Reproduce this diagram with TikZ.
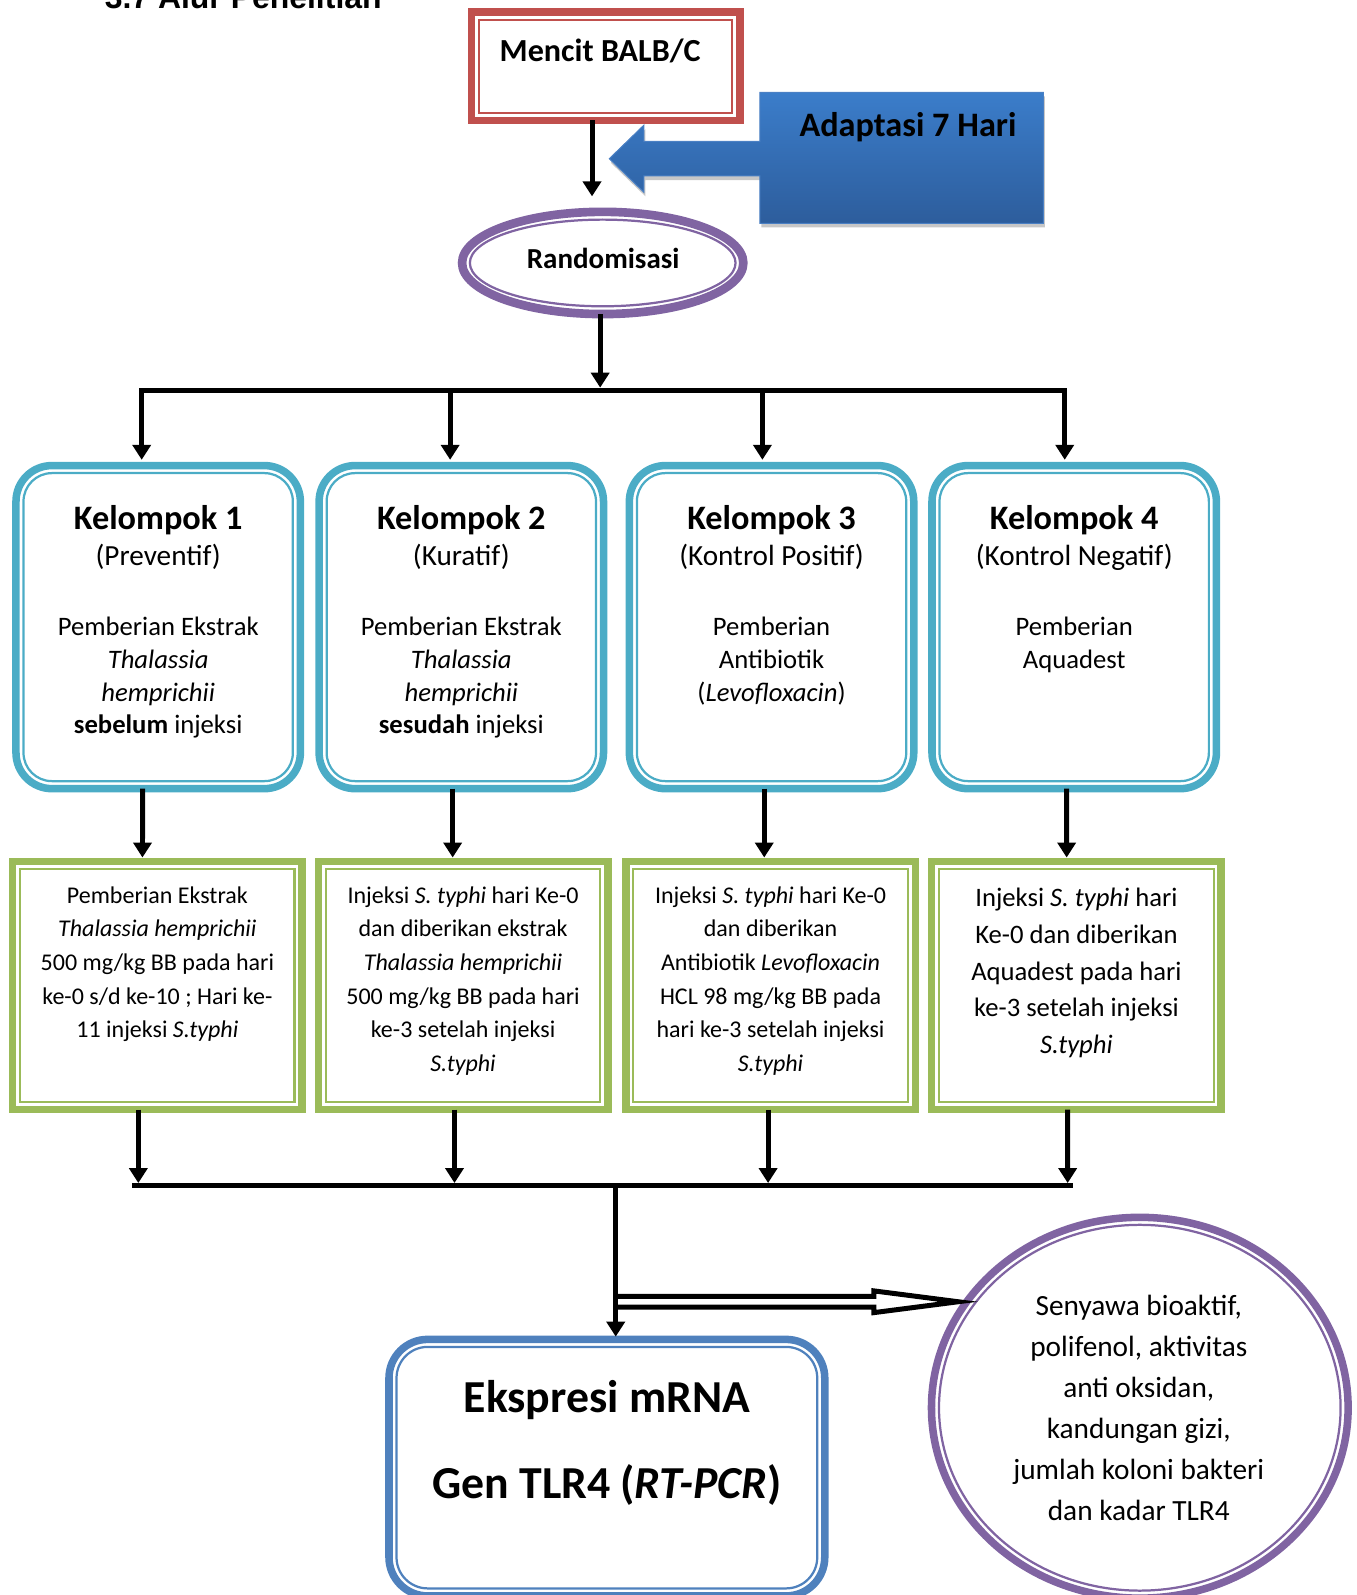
\documentclass[tikz,border=0pt]{standalone}
\usepackage{fontspec}
\setmainfont{Carlito}
\newfontfamily\titlefont{Liberation Sans}
\usetikzlibrary{arrows.meta,shapes.geometric,calc}
\definecolor{cred}{HTML}{C0504D}
\definecolor{ckel}{HTML}{4BACC6}
\definecolor{cgrn}{HTML}{9BBB59}
\definecolor{cpur}{HTML}{8064A2}
\definecolor{ceks}{HTML}{4F81BD}
\definecolor{cadtop}{HTML}{3B7DCA}
\definecolor{cadbot}{HTML}{2D5D9C}
\definecolor{cadline}{HTML}{4A80C4}
\newcommand\zzs{\rule{0pt}{40pt}}
\newcommand\fsz[2]{\fontsize{#1}{#2}\selectfont}
\begin{document}
\begin{tikzpicture}[x=1pt,y=-1pt,
  every node/.style={inner sep=0pt,outer sep=0pt},
  arr/.style={line width=4.9pt,-{Triangle[length=14.7pt,width=17.7pt]}},
  barline/.style={line width=5.2pt},
  thickb/.style={line width=7.4pt},
  thinb/.style={line width=2.2pt},
  redbox/.style={draw=cred,thickb,minimum width=263.6pt,minimum height=106.4pt},
  kbox/.style={draw=ckel,thickb,rounded corners=35.3pt,minimum width=279.6pt,minimum height=317.6pt},
  gbox/.style={draw=cgrn,thickb,minimum width=284.6pt,minimum height=244.2pt},
  ebox/.style={draw=ceks,thickb,rounded corners=38pt,minimum width=428.4pt,minimum height=252.2pt},
  txt/.style={align=center,anchor=north},
  ktxt/.style={txt,font=\fsz{26.2}{32.3}},
  gtxt/.style={txt,font=\fsz{23.6}{33}},
]
\useasboundingbox (0,0) rectangle (1334,1568);
\clip (0,0) rectangle (1334,1568);

% title (cut off at the top)
\node[anchor=base west,font=\titlefont\fsz{31.4}{36}\bfseries] (title) at (103,8.2) {3.7 Alur Penelitian};

% Mencit BALB/C
\node[redbox] (mencit) at (595.5,65.1) {};
\draw[cred,thinb] ($(mencit.south west)+(7.4pt,7.4pt)$) rectangle ($(mencit.north east)-(7.4pt,7.4pt)$);
\node[anchor=base,font=\fsz{31.6}{38}\bfseries] (mtxt) at (590,60) {Mencit BALB/C};

% Adaptasi block arrow
\begin{scope}[shift={(1.5,4)}]
\fill[black!22] (1025.6,90.8) -- (747,90.8) -- (747,139) -- (633,139) -- (633,123) -- (599,156) -- (633,189) -- (633,173) -- (747,173) -- (747,219.6) -- (1025.6,219.6) -- cycle;
\end{scope}
\shade[top color=cadtop,bottom color=cadbot,draw=cadline,line width=1pt]
  (1025.6,90.8) -- (747,90.8) -- (747,139) -- (633,139) -- (633,123) -- (599,156) -- (633,189) -- (633,173) -- (747,173) -- (747,219.6) -- (1025.6,219.6) -- cycle;
\node[anchor=base,font=\fsz{33.7}{40}\bfseries] (adapt) at (892.6,134) {Adaptasi 7 Hari};

% Randomisasi
\node[ellipse,draw=cpur,line width=8.5pt,minimum width=276.5pt,minimum height=100.5pt] (rand) at (592.5,258.5) {};
\draw[cpur,thinb] (rand.center) ellipse [x radius=130.6,y radius=42.6];
\node[anchor=base,font=\fsz{28.5}{34}\bfseries] (rtxt) at (593,264.2) {Randomisasi};

\draw[arr] ([xshift=-13.5pt]mencit.south) -- ([xshift=-10.5pt,yshift=15.2pt]rand.north);

% Kelompok boxes
\node[kbox] (k1) at (155.5,616.5) {};
\node[kbox] (k2) at (453.5,616.5) {};
\node[kbox] (k3) at (758.5,616.5) {};
\node[kbox] (k4) at (1056,616.5) {};
\foreach \n in {k1,k2,k3,k4}{
  \draw[ckel,thinb,rounded corners=27.9pt] ($(\n.south west)+(7.4pt,7.4pt)$) rectangle ($(\n.north east)-(7.4pt,7.4pt)$);
}
\node[ktxt] (k1t) at (155.5,480.3) {{\zzs\fsz{33.7}{32.3}\bfseries Kelompok 1}\\[3.8pt]{\fsz{28.7}{32.3}(Preventif)}\\[35.9pt]Pemberian Ekstrak\\\textit{Thalassia}\\\textit{hemprichii}\\\textbf{sebelum} injeksi};
\node[ktxt] (k2t) at (453.5,480.3) {{\zzs\fsz{33.7}{32.3}\bfseries Kelompok 2}\\[3.8pt]{\fsz{28.7}{32.3}(Kuratif)}\\[35.9pt]Pemberian Ekstrak\\\textit{Thalassia}\\\textit{hemprichii}\\\textbf{sesudah} injeksi};
\node[ktxt] (k3t) at (758.5,480.3) {{\zzs\fsz{33.7}{32.3}\bfseries Kelompok 3}\\[3.8pt]{\fsz{28.7}{32.3}(Kontrol Positif)}\\[35.9pt]Pemberian\\Antibiotik\\(\textit{Levofloxacin})};
\node[ktxt] (k4t) at (1056,480.3) {{\zzs\fsz{33.7}{32.3}\bfseries Kelompok 4}\\[3.8pt]{\fsz{28.7}{32.3}(Kontrol Negatif)}\\[35.9pt]Pemberian\\Aquadest};

% top distribution bar
\coordinate (bt0) at (590,383.7);
\coordinate (bt1) at (139.3,383.7);
\coordinate (bt2) at (442.5,383.7);
\coordinate (bt3) at (749.5,383.7);
\coordinate (bt4) at (1046.7,383.7);
\draw[barline,line cap=rect] (bt1) -- (bt4);
\draw[arr] ([xshift=-2.5pt]rand.south) -- ([yshift=2.6pt]bt0);
\draw[arr,shorten >=5.7pt] (bt1) -- (bt1 |- k1.north);
\draw[arr,shorten >=5.7pt] (bt2) -- (bt2 |- k2.north);
\draw[arr,shorten >=5.7pt] (bt3) -- (bt3 |- k3.north);
\draw[arr,shorten >=5.7pt] (bt4) -- (bt4 |- k4.north);

% green boxes
\node[gbox] (g1) at (154.7,968.8) {};
\node[gbox] (g2) at (455.2,968.8) {};
\node[gbox] (g3) at (757.5,968.8) {};
\node[gbox] (g4) at (1058.2,968.8) {};
\foreach \n in {g1,g2,g3,g4}{
  \draw[cgrn,thinb] ($(\n.south west)+(7.4pt,7.4pt)$) rectangle ($(\n.north east)-(7.4pt,7.4pt)$);
}
\node[gtxt] (g1t) at (154.7,848) {\zzs Pemberian Ekstrak\\\textit{Thalassia hemprichii}\\500 mg/kg BB pada hari\\ke-0 s/d ke-10 ; Hari ke-\\11 injeksi \textit{S.typhi}};
\node[gtxt] (g2t) at (455.2,848) {\zzs Injeksi \textit{S. typhi} hari Ke-0\\dan diberikan ekstrak\\\textit{Thalassia hemprichii}\\500 mg/kg BB pada hari\\ke-3 setelah injeksi\\\textit{S.typhi}};
\node[gtxt] (g3t) at (757.5,848) {\zzs Injeksi \textit{S. typhi} hari Ke-0\\dan diberikan\\Antibiotik \textit{Levofloxacin}\\HCL 98 mg/kg BB pada\\hari ke-3 setelah injeksi\\\textit{S.typhi}};
\node[txt,font=\fsz{26.2}{36}] (g4t) at (1058.2,851.4) {\zzs Injeksi \textit{S. typhi} hari\\Ke-0 dan diberikan\\Aquadest pada hari\\ke-3 setelah injeksi\\\textit{S.typhi}};

\draw[arr,shorten >=3.7pt] ([xshift=-15.2pt]k1.south) -- ([xshift=-14.7pt]g1.north);
\draw[arr,shorten >=3.7pt] ([xshift=-8.5pt]k2.south) -- ([xshift=-10.2pt]g2.north);
\draw[arr,shorten >=3.7pt] ([xshift=-7.2pt]k3.south) -- ([xshift=-6.2pt]g3.north);
\draw[arr,shorten >=3.7pt] ([xshift=-7.4pt]k4.south) -- ([xshift=-9.6pt]g4.north);

% bottom collecting bar
\coordinate (bbL) at (130,1165.6);
\coordinate (bbR) at (1054.4,1165.6);
\coordinate (bb0) at (605.3,1165.6);
\coordinate (bb1) at (136,1165.6);
\coordinate (bb2) at (446.8,1165.6);
\coordinate (bb3) at (755.1,1165.6);
\coordinate (bb4) at (1049.6,1165.6);
\draw[barline] (bbL) -- (bbR);
\draw[arr,shorten >=2.6pt] ([xshift=-18.7pt]g1.south) -- (bb1);
\draw[arr,shorten >=2.6pt] ([xshift=-8.4pt]g2.south) -- (bb2);
\draw[arr,shorten >=2.6pt] ([xshift=-2.4pt]g3.south) -- (bb3);
\draw[arr,shorten >=2.6pt] ([xshift=-8.6pt]g4.south) -- (bb4);

% Ekspresi box
\node[ebox] (eks) at (596.6,1442.8) {};
\draw[ceks,thinb,rounded corners=30.6pt] ($(eks.south west)+(7.4pt,7.4pt)$) rectangle ($(eks.north east)-(7.4pt,7.4pt)$);
\node[txt,font=\fsz{45}{84.5}\bfseries] (ekst) at (596.6,1349) {\zzs Ekspresi mRNA\\Gen TLR4 (\textit{RT-PCR})};

% outcome ellipse
\node[ellipse,draw=cpur,thickb,minimum width=409.6pt,minimum height=374.4pt] (circ) at (1120.5,1383.9) {};
\draw[cpur,thinb] (circ.center) ellipse [x radius=197.4,y radius=179.8];
\node[txt,font=\fsz{28.8}{40.4}] (circt) at (1119.5,1253) {\zzs Senyawa bioaktif,\\polifenol, aktivitas\\anti oksidan,\\kandungan gizi,\\jumlah koloni bakteri\\dan kadar TLR4};

% double (hollow) arrow to the ellipse
\coordinate (dsplit) at (605.3,1279.7);
\coordinate (dtip) at (942,1279.7);
\draw[line width=4.9pt,fill=white,miter limit=12]
  ($(dsplit)+(0,-5.3)$) -- ($(dtip)+(-83,-5.3)$) -- ($(dtip)+(-83,-10.7)$) -- (dtip)
  -- ($(dtip)+(-83,10.7)$) -- ($(dtip)+(-83,5.3)$) -- ($(dsplit)+(0,5.3)$);

\draw[arr,shorten >=2.7pt] (bb0) -- (bb0 |- eks.north);
\end{tikzpicture}
\end{document}
